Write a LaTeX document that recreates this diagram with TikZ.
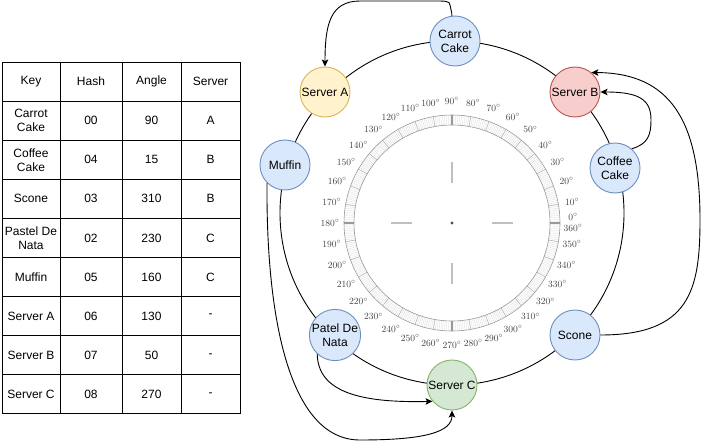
\documentclass[tikz,border=0pt]{standalone}
\usepackage{fontspec}
\setsansfont{Liberation Sans}
\usetikzlibrary{arrows.meta}
\definecolor{blfill}{HTML}{DAE8FC}
\definecolor{blline}{HTML}{6C8EBF}
\definecolor{yefill}{HTML}{FFF2CC}
\definecolor{yeline}{HTML}{D6B656}
\definecolor{refill}{HTML}{F8CECC}
\definecolor{reline}{HTML}{B85450}
\definecolor{grfill}{HTML}{D5E8D4}
\definecolor{grline}{HTML}{82B366}
\begin{document}
\begin{tikzpicture}[x=1pt,y=-1pt,
  txt/.style={font=\sffamily\fontsize{12}{14}\selectfont,align=center},
  cell/.style={txt,draw,line width=.9pt,minimum height=39.1pt,inner sep=1pt},
  ball/.style={txt,circle,minimum size=50pt,inner sep=0pt,line width=.9pt,draw=blline,fill=blfill},
  deg/.style={font=\rmfamily\fontsize{9.5}{11}\selectfont,text=black!75,inner sep=0pt},
  arr/.style={-{Stealth[length=7pt,width=6.5pt,inset=1.5pt]},line width=.9pt}]
  \useasboundingbox (0,0) rectangle (701,441);
  \foreach \k/\h/\g/\s [count=\i] in {Key/Hash/Angle/Server,Carrot\\Cake/00/90/A,Coffee\\Cake/04/15/B,Scone/03/310/B,Pastel De\\Nata/02/230/C,Muffin/05/160/C,Server A/06/130/-,Server B/07/50/-,Server C/08/270/-}{
    \node[cell,minimum width=58pt] (k\i) at (31,{62+39.1*(\i-.5)}) {\k};
    \node[cell,minimum width=62pt] (h\i) at (91,{62+39.1*(\i-.5)}) {\h};
    \node[cell,minimum width=59pt] (g\i) at (151.5,{62+39.1*(\i-.5)}) {\g};
    \node[cell,minimum width=59pt] (s\i) at (210.5,{62+39.1*(\i-.5)}) {\s};
  }
  \begin{scope}[shift={(452,223)}]
    \foreach \a in {0,...,359}
      \draw[gray!30,line width=.3pt] (-\a:98) -- (-\a:108);
    \foreach \a in {0,10,...,350}
      \draw[gray!60,line width=.5pt] (-\a:98) -- (-\a:108);
    \foreach \a in {0,90,180,270}
      \draw[gray!80,line width=1.5pt] (-\a:98) -- (-\a:108);
    \draw[gray!80,line width=.6pt] (0,0) circle[radius=98] (0,0) circle[radius=108];
    \foreach \a in {10,20,...,350}
      \node[deg] at (-\a:122) {\a$^\circ$};
    \node[deg] (zero) at (121,-6) {0$^\circ$};
    \node[deg] (full) at (121,5) {360$^\circ$};
    \draw[gray!50,line width=1.2pt] (40,0) -- (61,0) (-40,0) -- (-61,0) (0,40) -- (0,61) (0,-40) -- (0,-61);
    \fill[black!70] (0,0) circle[radius=1.6];
  \end{scope}
  \draw[line width=.9pt] (452,213) circle[radius=172];
  \node[ball] (CC) at (455,41) {Carrot\\Cake};
  \node[ball,draw=yeline,fill=yefill] (SA) at (325,92) {Server A};
  \node[ball,draw=reline,fill=refill] (SB) at (575,92) {Server B};
  \node[ball] (CO) at (615,168) {Coffee\\Cake};
  \node[ball] (SN) at (575,335) {Scone};
  \node[ball,draw=grline,fill=grfill] (SC) at (452,385) {Server C};
  \node[ball] (PN) at (335,335) {Patel De\\Nata};
  \node[ball] (MF) at (285,165) {Muffin};
  \draw[arr] (CC.97) .. controls (452,10) and (450,9) .. (450,5) .. controls (450,1) and (445,1) .. (435,1) -- (360,1) .. controls (330,1) and (325,25) .. (SA.north);
  \draw[arr] (CO.49) .. controls (648,144) and (651,135) .. (651,120) .. controls (651,100) and (640,92) .. (SB.east);
  \draw[arr] (SN.east) .. controls (690,335) and (700,290) .. (700,220) .. controls (700,120) and (670,73) .. (SB.50);
  \draw[arr] (MF.225) .. controls (266,320) and (290,440) .. (360,440) .. controls (425,440) and (452,432) .. (SC.south);
  \draw[arr] (PN.227) .. controls (318,392) and (360,403) .. (SC.220);
\end{tikzpicture}
\end{document}
